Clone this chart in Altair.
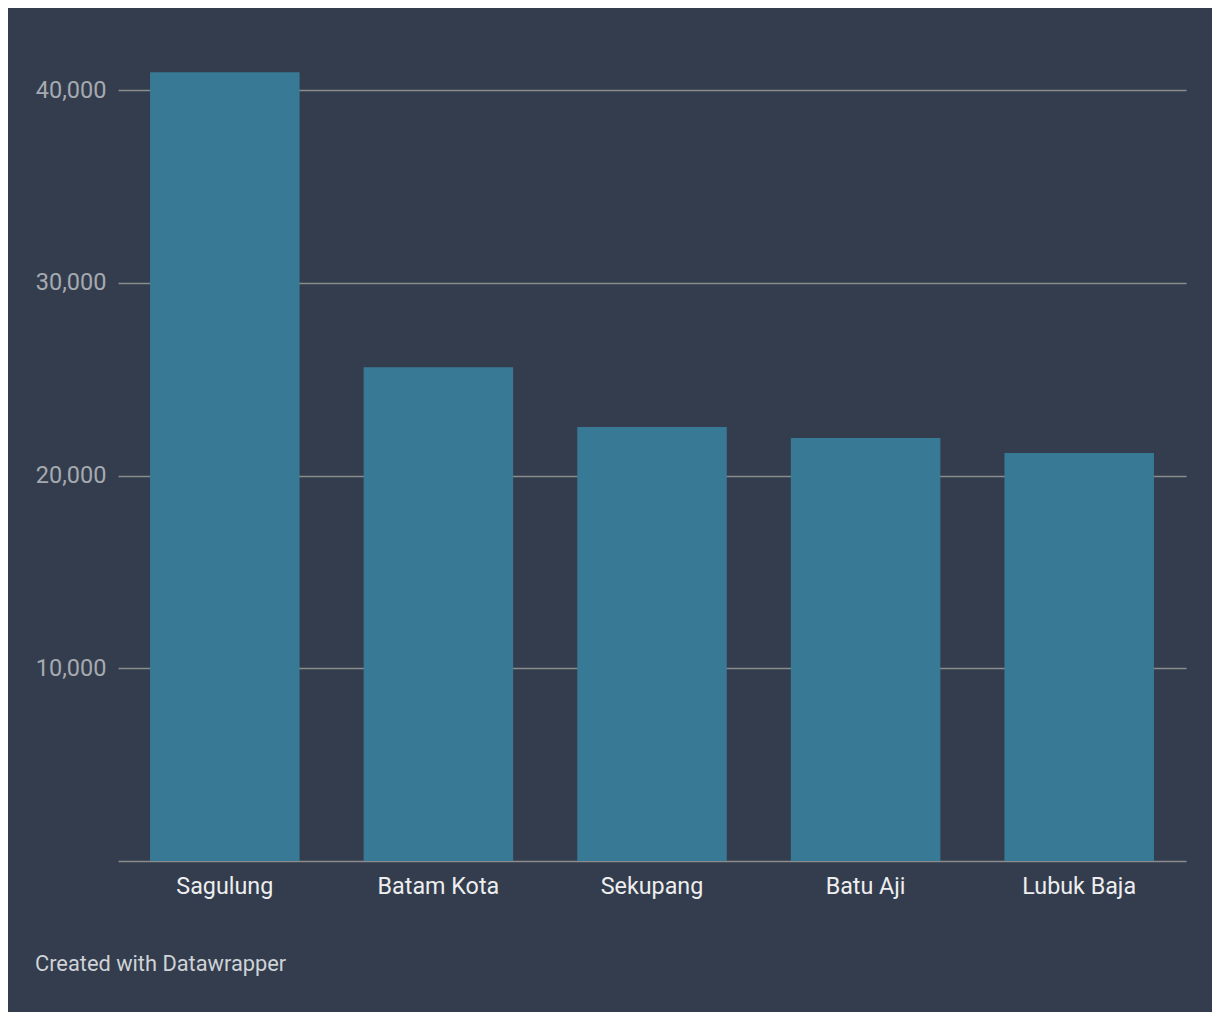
import altair as alt
import pandas as pd

categories = ["Sagulung", "Batam Kota", "Sekupang", "Batu Aji", "Lubuk Baja"]
values = [40930, 25630, 22520, 21950, 21170]
y_ticks = [10000, 20000, 30000, 40000]
footer = "Created with Datawrapper"

df = pd.DataFrame({"kecamatan": categories, "nilai": values})

bars = alt.Chart(df).mark_bar(color="#387a96").encode(
    x=alt.X(
        "kecamatan:N",
        sort=categories,
        title=None,
        scale=alt.Scale(paddingInner=0.3, paddingOuter=0.15),
        axis=alt.Axis(
            labelAngle=0,
            labelColor="#eeeeee",
            labelFont="Roboto",
            labelFontSize=23.3,
            labelPadding=14,
            ticks=False,
            domain=True,
            domainColor="#8c8c8c",
            domainWidth=1.5,
            grid=False,
        ),
    ),
    y=alt.Y(
        "nilai:Q",
        title=None,
        scale=alt.Scale(domain=[0, 41000], nice=False),
        axis=alt.Axis(
            values=y_ticks,
            format=",.0f",
            labelColor="#a6aab0",
            labelFont="Roboto",
            labelFontSize=23.5,
            labelPadding=12,
            ticks=False,
            domain=False,
            grid=True,
            gridColor="#8c8c8c",
            gridWidth=1.5,
        ),
    ),
)

foot = alt.Chart(pd.DataFrame({"t": [footer]})).mark_text(
    align="left", baseline="middle", font="Roboto", fontSize=21.8, color="#cfd2d6"
).encode(text="t:N", x=alt.value(-83), y=alt.value(893))

chart = alt.layer(bars, foot).properties(
    width=1068,
    height=790,
    autosize=alt.AutoSizeParams(type="none"),
    padding={"left": 110, "top": 63, "right": 26, "bottom": 151},
    background="#333d4e",
).configure_view(stroke=None)

chart.save("out.html", embed_options={"renderer": "svg", "actions": False})
